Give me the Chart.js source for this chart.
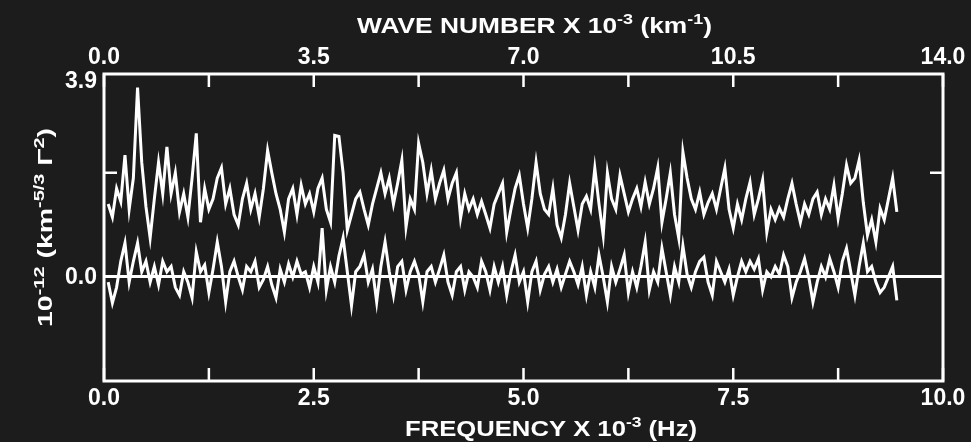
<!DOCTYPE html>
<html>
<head>
<meta charset="utf-8">
<script src="https://cdn.jsdelivr.net/npm/chart.js@4.4.1/dist/chart.umd.min.js"></script>
<style>
  html, body { margin: 0; padding: 0; background: #1c1c1c; }
  #wrap { width: 971px; height: 442px; }
</style>
</head>
<body>
<div id="wrap"><canvas id="spec"></canvas></div>
<script>
// sample grid, frequency x 10^-3 Hz
const freqStart = 0.05;
const freqStep = 0.05;

// upper trace
const upperTrace = [
  1.4, 1.15, 1.7, 1.45, 2.34, 1.3, 1.9, 3.64, 2.2, 1.35,
  0.75, 1.5, 2.2, 1.6, 2.5, 1.6, 2.0, 1.25, 1.6, 1.15,
  1.9, 2.76, 1.05, 1.7, 1.3, 1.5, 1.9, 2.1, 1.4, 1.7,
  1.2, 1.0, 1.5, 1.8, 1.3, 1.6, 1.15, 1.7, 2.43, 2.0,
  1.6, 1.3, 0.86, 1.5, 1.7, 1.2, 1.76, 1.4, 1.6, 1.25,
  1.7, 1.9, 1.3, 1.05, 2.72, 2.7, 2.0, 0.9, 1.2, 1.5,
  1.63, 1.3, 1.0, 1.4, 1.7, 2.0, 1.6, 1.9, 1.4, 1.8,
  2.24, 0.96, 1.5, 1.3, 2.57, 2.2, 1.6, 2.05, 1.5, 1.8,
  2.05, 1.5, 1.8, 2.0, 1.13, 1.6, 1.3, 1.5, 1.2, 1.45,
  1.2, 0.94, 1.4, 1.6, 1.8, 0.86, 1.3, 1.7, 1.95, 1.4,
  0.94, 1.5, 2.2, 1.6, 1.3, 1.2, 1.7, 1.0, 0.75, 1.2,
  1.8, 1.35, 0.9, 1.4, 1.55, 1.3, 2.09, 1.4, 0.8, 2.0,
  1.5, 1.3, 1.95, 1.6, 1.25, 1.5, 1.7, 1.35, 1.82, 1.4,
  1.7, 2.1, 1.05, 1.5, 2.0, 1.2, 0.75, 2.4, 1.9, 1.5,
  1.3, 1.63, 1.2, 1.43, 1.6, 1.3, 1.7, 2.09, 1.3, 0.94,
  1.4, 1.1, 1.5, 1.82, 1.2, 1.5, 1.86, 0.86, 1.3, 1.1,
  1.32, 1.15, 1.5, 1.8, 1.4, 1.05, 1.4, 1.2, 1.5, 1.63,
  1.2, 1.5, 1.3, 1.76, 1.13, 1.6, 2.15, 1.8, 1.9, 2.24,
  1.43, 0.8, 1.1, 0.67, 1.32, 1.1, 1.5, 1.9, 1.25
];

// lower trace
const lowerTrace = [
  -0.1, -0.5, -0.2, 0.3, 0.65, -0.1, 0.3, 0.65, 0.1, 0.3,
  -0.1, 0.2, -0.15, 0.3, 0.1, 0.2, -0.2, -0.35, 0.1, -0.1,
  -0.4, 0.48, 0.1, 0.23, -0.3, 0.15, 0.67, 0.2, -0.48, 0.1,
  0.3, 0.0, -0.25, 0.2, 0.1, 0.3, -0.2, -0.05, 0.2, -0.15,
  -0.4, 0.15, -0.1, 0.25, 0.0, 0.3, 0.05, 0.1, -0.2, 0.2,
  -0.1, 0.94, -0.25, 0.2, -0.1, 0.4, 0.75, 0.1, -0.55, 0.1,
  0.2, 0.42, -0.1, 0.15, -0.48, 0.2, 0.67, 0.1, -0.35, 0.2,
  0.3, -0.25, 0.1, 0.3, 0.05, -0.48, 0.1, 0.2, -0.1, 0.15,
  0.42, -0.1, -0.35, 0.1, 0.2, -0.25, 0.1, 0.0, -0.2, 0.3,
  0.1, -0.25, 0.2, -0.1, 0.2, -0.35, 0.1, 0.42, -0.1, 0.1,
  -0.48, 0.1, 0.3, -0.25, 0.05, 0.2, -0.1, 0.15, -0.2, 0.05,
  0.3, 0.1, -0.15, 0.2, -0.35, 0.1, -0.2, 0.42, 0.0, -0.48,
  0.2, -0.1, 0.15, 0.42, -0.3, 0.1, -0.2, 0.2, 0.67, -0.25,
  0.1, -0.1, 0.55, 0.1, -0.35, 0.2, -0.1, 0.6, 0.05, -0.2,
  0.1, 0.3, 0.38, -0.1, -0.35, 0.3, 0.1, -0.1, 0.15, -0.35,
  0.0, 0.3, 0.1, 0.3, 0.15, 0.35, -0.25, 0.1, 0.0, 0.2,
  0.05, 0.42, 0.2, -0.4, -0.1, 0.1, 0.35, 0.0, -0.48, -0.1,
  0.2, 0.0, 0.35, 0.1, -0.2, 0.3, 0.55, 0.1, -0.35, 0.2,
  0.65, 0.1, 0.2, -0.1, -0.3, -0.2, 0.0, 0.2, -0.45
];

// axis ranges and labels
const freqRange = [0, 10];
const freqTicks = [0, 2.5, 5.0, 7.5, 10.0];
const freqMinor = [1.25, 3.75, 6.25, 8.75];
const waveRange = [0, 14];
const waveTicks = [0, 3.5, 7.0, 10.5, 14.0];
const waveMinor = [1.75, 5.25, 8.75, 12.25];
const yRange = [-2.0, 3.9];
const yLabelled = [3.9, 0.0];
const ySideTicks = [2.0];

const freq = upperTrace.map((_, i) => +(freqStart + i * freqStep).toFixed(2));
const toPoints = arr => arr.map((v, i) => ({ x: freq[i], y: v }));

const INK = '#ffffff';
const BG = '#1c1c1c';
const FONT = "'Liberation Sans', Arial, sans-serif";

// draws a run of text with superscript parts, squeezed to a given width
function drawRun(ctx, pieces, size, width) {
  const sup = Math.round(size * 0.68);
  let total = 0;
  pieces.forEach(p => {
    ctx.font = `bold ${p.sup ? sup : size}px ${FONT}`;
    p.w = ctx.measureText(p.t).width;
    total += p.w;
  });
  const sx = width / total;
  ctx.save();
  ctx.scale(sx, 1);
  let x = 0;
  pieces.forEach(p => {
    ctx.font = `bold ${p.sup ? sup : size}px ${FONT}`;
    ctx.fillText(p.t, x, p.sup ? -size * 0.42 : 0);
    x += p.w;
  });
  ctx.restore();
}

const decorPlugin = {
  id: 'decor',
  beforeDraw(chart) {
    const ctx = chart.ctx;
    ctx.save();
    ctx.fillStyle = BG;
    ctx.fillRect(0, 0, chart.width, chart.height);
    ctx.restore();
  },
  afterDatasetsDraw(chart) {
    const { ctx, chartArea: a, scales } = chart;
    const tl = 13;
    ctx.save();
    ctx.strokeStyle = INK;
    ctx.fillStyle = INK;
    ctx.lineWidth = 3;
    ctx.strokeRect(a.left, a.top, a.right - a.left, a.bottom - a.top);

    ctx.lineWidth = 2.5;
    ctx.beginPath();
    freqTicks.concat(freqMinor).forEach(v => {
      const px = scales.x.getPixelForValue(v);
      ctx.moveTo(px, a.bottom);
      ctx.lineTo(px, a.bottom - tl);
    });
    waveTicks.concat(waveMinor).forEach(v => {
      const px = scales.x2.getPixelForValue(v);
      ctx.moveTo(px, a.top);
      ctx.lineTo(px, a.top + tl);
    });
    ySideTicks.forEach(v => {
      const py = scales.y.getPixelForValue(v);
      ctx.moveTo(a.left, py);
      ctx.lineTo(a.left + tl, py);
      ctx.moveTo(a.right, py);
      ctx.lineTo(a.right - tl, py);
    });
    ctx.stroke();

    // y tick labels
    ctx.font = `bold 23px ${FONT}`;
    ctx.textAlign = 'right';
    ctx.textBaseline = 'middle';
    yLabelled.forEach(v => {
      let py = scales.y.getPixelForValue(v);
      if (v === yRange[1]) py += 7;
      ctx.fillText(v.toFixed(1), a.left - 7, py + 1);
    });

    // axis titles
    ctx.textAlign = 'left';
    ctx.textBaseline = 'alphabetic';
    ctx.save();
    ctx.translate(357, 33);
    drawRun(ctx, [
      { t: 'WAVE NUMBER X 10' }, { t: '-3', sup: true }, { t: ' (km' }, { t: '-1', sup: true }, { t: ')' }
    ], 22, 355);
    ctx.restore();

    ctx.save();
    ctx.translate(405, 436);
    drawRun(ctx, [
      { t: 'FREQUENCY X 10' }, { t: '-3', sup: true }, { t: ' (Hz)' }
    ], 22, 292);
    ctx.restore();

    ctx.save();
    ctx.translate(52, 327);
    ctx.rotate(-Math.PI / 2);
    drawRun(ctx, [
      { t: '10' }, { t: '-12', sup: true }, { t: ' (km' }, { t: '-5/3', sup: true },
      { t: ' \u0393' }, { t: '2', sup: true }, { t: ')' }
    ], 20, 199);
    ctx.restore();

    ctx.restore();
  }
};

new Chart(document.getElementById('spec'), {
  type: 'line',
  data: {
    datasets: [
      { label: 'upper', data: toPoints(upperTrace) },
      { label: 'lower', data: toPoints(lowerTrace) }
    ]
  },
  options: {
    responsive: true,
    maintainAspectRatio: false,
    animation: false,
    layout: { padding: { left: 0, right: 28, top: 0, bottom: 0 } },
    elements: {
      line: { borderColor: INK, borderWidth: 3, tension: 0, borderJoinStyle: 'miter' },
      point: { radius: 0, hoverRadius: 0 }
    },
    plugins: { legend: { display: false }, tooltip: { enabled: false } },
    scales: {
      x: {
        type: 'linear', position: 'bottom',
        min: freqRange[0], max: freqRange[1],
        afterBuildTicks: s => { s.ticks = freqTicks.map(v => ({ value: v })); },
        afterFit: s => { s.height = 61; },
        grid: { display: false, drawTicks: false },
        border: { display: false },
        ticks: {
          color: INK, padding: 4, maxRotation: 0, autoSkip: false,
          font: { family: FONT, size: 23, weight: 'bold' },
          callback: v => Number(v).toFixed(1)
        }
      },
      x2: {
        type: 'linear', position: 'top',
        min: waveRange[0], max: waveRange[1],
        afterBuildTicks: s => { s.ticks = waveTicks.map(v => ({ value: v })); },
        afterFit: s => { s.height = 74; },
        grid: { display: false, drawTicks: false },
        border: { display: false },
        ticks: {
          color: INK, padding: 3, maxRotation: 0, autoSkip: false,
          font: { family: FONT, size: 23, weight: 'bold' },
          callback: v => Number(v).toFixed(1)
        }
      },
      y: {
        type: 'linear', position: 'left',
        min: yRange[0], max: yRange[1],
        afterBuildTicks: s => { s.ticks = [{ value: 0 }]; },
        afterFit: s => { s.width = 104; },
        grid: { drawTicks: false, color: INK, lineWidth: 3 },
        border: { display: false },
        ticks: { display: false }
      }
    }
  },
  plugins: [decorPlugin]
});
</script>
</body>
</html>
